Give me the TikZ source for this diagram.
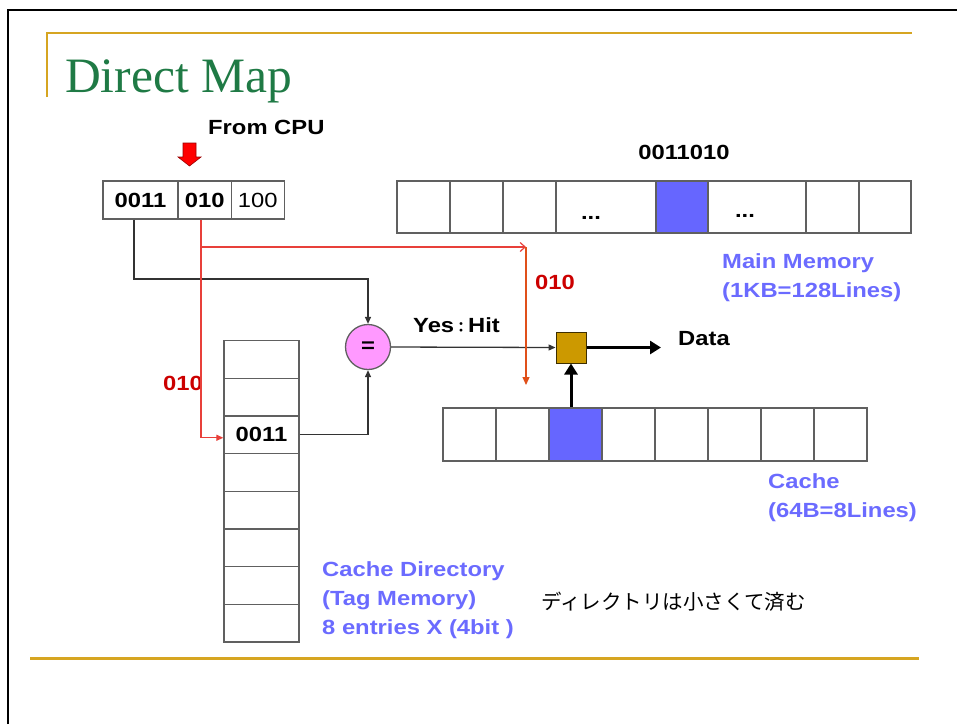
\documentclass[tikz,border=0pt]{standalone}
\usepackage{fontspec}
\setmainfont{Liberation Sans}
\newfontfamily\af[FakeStretch=1.16]{Liberation Sans}
\newfontfamily\tf{Liberation Serif}
\newfontfamily\cjk{Noto Sans CJK JP}
\usetikzlibrary{arrows.meta,calc}
\definecolor{gold}{HTML}{D6A521}
\definecolor{cellgray}{HTML}{606060}
\definecolor{memblue}{HTML}{6666FF}
\definecolor{txtblue}{HTML}{6B6BFF}
\definecolor{lblred}{HTML}{CC0000}
\definecolor{linered}{HTML}{E8403A}
\definecolor{downred}{HTML}{E0501A}
\definecolor{titlegreen}{HTML}{1F7A45}
\definecolor{eqfill}{HTML}{FF99FF}
\definecolor{boxgold}{HTML}{CC9900}
\begin{document}
\begin{tikzpicture}[x=1pt,y=-1pt,
  cellbox/.style={draw=cellgray,line width=1.3pt,rectangle,inner sep=0pt,
    minimum width=#1,font=\af\bfseries\fontsize{20.5}{24}\selectfont},
  cellbox/.default=53pt,
  memcell/.style={cellbox=#1,minimum height=52pt},
  cachecell/.style={cellbox=#1,minimum height=53pt},
  tagcell/.style={cellbox=75pt,minimum height=37.7pt},
  lbl/.style={inner sep=0pt,anchor=west,font=\af\bfseries\fontsize{20.5}{29}\selectfont,align=left},
  blk/.style={draw=black!80,line width=1.3pt,-{Triangle[length=7pt,width=6pt]}},
  redl/.style={draw=linered,line width=1.2pt},
  thick arrow/.style={draw=black,line width=3pt,-{Triangle[length=11pt,width=13pt]}}
]
\useasboundingbox (0,0) rectangle (957,724);
% slide frame and decoration
\draw[line width=2pt] (8,724) -- (8,10) -- (957,10);
\draw[gold,line width=2.5pt] (47,97) -- (47,33) -- (912,33);
\draw[gold,line width=3pt] (30,658) -- (919,658);
\node[inner sep=0pt,anchor=base west,text=titlegreen,font=\tf\fontsize{49.5}{52}\selectfont] (title) at (65,92) {Direct Map};

% from CPU
\node[lbl,anchor=base west] (cpu) at (208,134) {From CPU};
\filldraw[fill=red,draw=red!60!black,line width=0.6pt] (183,143) -- (196,143) -- (196,157) -- (201,157) -- (189.5,166) -- (178,157) -- (183,157) -- cycle;

% address
\node[cellbox=75pt,minimum height=38pt] (a1) at (140.5,200) {0011};
\node[cellbox=53pt,minimum height=38pt] (a2) at (204.75,200) {010};
\node[cellbox=53pt,minimum height=38pt,font=\af\fontsize{20.5}{24}\selectfont] (a3) at (257.75,200) {100};

% main memory
\node[memcell=53pt] (m1) at (423.5,207) {};
\node[memcell=53pt] (m2) at (476.5,207) {};
\node[memcell=53pt] (m3) at (529.5,207) {};
\node[memcell=100pt] (m4) at (606,207) {};
\node[memcell=52pt,fill=memblue] (m5) at (682,207) {};
\node[memcell=98pt] (m6) at (757,207) {};
\node[memcell=53pt] (m7) at (832.5,207) {};
\node[memcell=52pt] (m8) at (885,207) {};
\node[inner sep=0pt,anchor=base,font=\af\bfseries\fontsize{20.5}{24}\selectfont] (d1) at (591,219) {...};
\node[inner sep=0pt,anchor=base,font=\af\bfseries\fontsize{20.5}{24}\selectfont] (d2) at (745,217) {...};
\node[lbl,anchor=center] (addr) at (684,152) {0011010};
\node[lbl,text=txtblue] (mmlbl) at (722,277.5) {Main Memory\\(1KB=128Lines)};

% tag memory
\node[tagcell] (t1) at (261.5,359.35) {};
\node[tagcell] (t2) at (261.5,397.05) {};
\node[tagcell] (t3) at (261.5,434.75) {0011};
\node[tagcell] (t4) at (261.5,472.45) {};
\node[tagcell] (t5) at (261.5,510.15) {};
\node[tagcell] (t6) at (261.5,547.85) {};
\node[tagcell] (t7) at (261.5,585.55) {};
\node[tagcell] (t8) at (261.5,623.25) {};
\node[lbl,text=txtblue] (tglbl) at (322,600) {Cache Directory\\(Tag Memory)\\8 entries X (4bit )};
\node[inner sep=0pt,anchor=west,font=\cjk\fontsize{20.5}{24}\selectfont] (jp) at (541,602) {ディレクトリは小さくて済む};

% cache
\node[cachecell=53pt] (c1) at (469.5,434.5) {};
\node[cachecell=53pt] (c2) at (522.5,434.5) {};
\node[cachecell=53pt,fill=memblue] (c3) at (575.5,434.5) {};
\node[cachecell=53pt] (c4) at (628.5,434.5) {};
\node[cachecell=53pt] (c5) at (681.5,434.5) {};
\node[cachecell=53pt] (c6) at (734.5,434.5) {};
\node[cachecell=53pt] (c7) at (787.5,434.5) {};
\node[cachecell=53pt] (c8) at (840.5,434.5) {};
\node[lbl,text=txtblue] (cclbl) at (768,497.5) {Cache\\(64B=8Lines)};

% comparator and selector
\node[circle,draw=cellgray,line width=1.3pt,fill=eqfill,minimum size=45pt,inner sep=0pt,font=\af\bfseries\fontsize{20.5}{24}\selectfont] (eq) at (368,347) {=};
\node[rectangle,draw=black!70!boxgold,line width=1pt,fill=boxgold,minimum width=30pt,minimum height=31pt,inner sep=0pt] (g) at (571,347.5) {};
\node[lbl] (hit) at (413,325) {Yes{\cjk\fontsize{14}{16}\selectfont ：}Hit};
\node[lbl] (data) at (678,339) {Data};
\node[lbl,text=lblred] (r1) at (535,282) {010};
\node[lbl,text=lblred] (r2) at (163,383) {010};

% connectors
\coordinate (j1) at (368,279);
\draw[blk] ([xshift=-6.5pt]a1.south) |- (j1) -- (eq.north);
\draw[blk] (t3.east) -| (eq.south);
\draw[blk] (eq.east) -- (g.west);
\draw[redl,-{Triangle[length=7pt,width=6pt]}] ([xshift=-3.75pt]a2.south) |- ([yshift=-3pt]t3.west);
\coordinate (rs) at (201,247);
\coordinate (rj) at (526,247);
\coordinate (rd) at (526,385);
\draw[redl,-{Straight Barb[length=5pt,width=9pt]}] (rs) -- (rj);
\draw[draw=downred,line width=1.2pt,-{Triangle[length=8pt,width=7pt]}] (rj) -- (rd);
\coordinate (dt) at (661,347.5);
\draw[thick arrow] (g.east) -- (dt);
\draw[thick arrow] (g.south |- c3.north) -- (g.south);
\end{tikzpicture}
\end{document}
